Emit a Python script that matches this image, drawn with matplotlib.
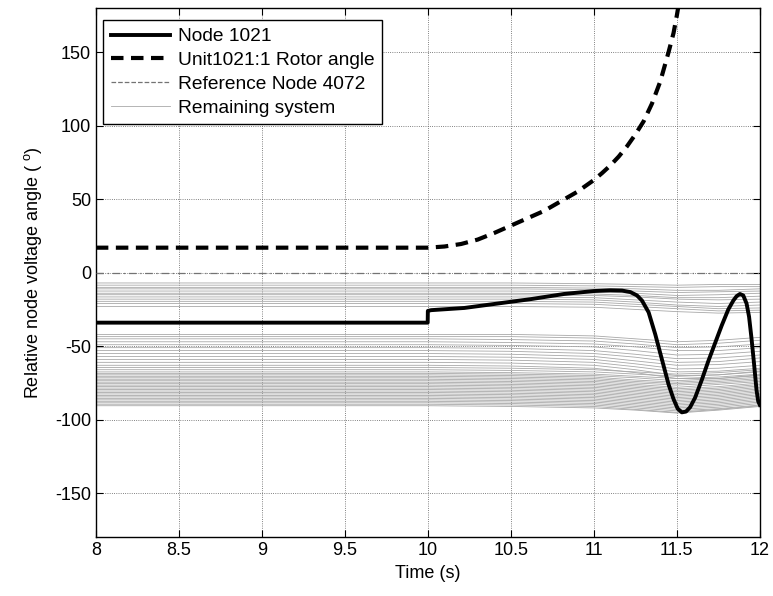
import matplotlib
matplotlib.use("Agg")
import matplotlib.pyplot as plt

plt.rcParams['font.family'] = ['Liberation Sans', 'DejaVu Sans']
plt.rcParams['mathtext.default'] = 'regular'
plt.rcParams['axes.unicode_minus'] = False

# Node 1021 voltage angle
t_node = [8, 9.999, 10.0, 10.02, 10.22, 10.42, 10.62, 10.82, 11.0, 11.1, 11.17, 11.22,
          11.26, 11.29, 11.33, 11.37, 11.41, 11.45, 11.48, 11.505, 11.53, 11.555, 11.58,
          11.61, 11.65, 11.69, 11.73, 11.77, 11.81, 11.84, 11.86, 11.88, 11.9, 11.92,
          11.935, 11.95, 11.965, 11.98, 11.99, 12.0]
node_1021 = [-34, -34, -26, -25.5, -24, -21, -18, -14.5, -12.5, -12, -12.2, -13.2,
             -15.5, -19, -27, -42, -59, -76, -86, -92.5, -95, -94.5, -91.5,
             -85, -73, -60, -48, -36, -25, -19, -16, -14.5, -15.5, -21,
             -30, -45, -62, -80, -87.5, -90]

# Unit1021:1 rotor angle
t_rotor = [8, 10.0, 10.1, 10.2, 10.3, 10.4, 10.5, 10.6, 10.7, 10.8, 10.9, 11.0, 11.05,
           11.1, 11.15, 11.2, 11.25, 11.3, 11.35, 11.4, 11.45, 11.48, 11.5, 11.53]
rotor_angle = [17, 17, 17.8, 19.5, 22.5, 27, 32, 37, 42, 48.5, 55, 63, 67.8,
               73, 79, 86, 94, 103, 115, 130, 150, 163, 175, 195]

# Reference node 4072
t_ref = [8, 12]
ref_4072 = [0, 0]

# Remaining system nodes (values at the time knots)
t_rest = [8, 10, 10.5, 11, 11.25, 11.5, 11.75, 12]
rest_upper = [
    [-7, -7, -7, -7.5, -8, -8.5, -8, -8],
    [-8.5, -8.5, -8.5, -9, -9.5, -10, -9.5, -9.5],
    [-10, -10, -10, -10.5, -11, -12, -12, -11],
    [-11, -11, -11, -11.5, -12.5, -13.5, -13, -12.5],
    [-12.5, -12.5, -12.5, -13, -14, -15.5, -15, -14],
    [-14, -14, -14, -14.5, -15.5, -17, -17, -16],
    [-15, -15, -15, -15.5, -16.5, -18, -18.5, -18],
    [-16.5, -16.5, -16.5, -17, -18.5, -20, -21, -20],
    [-18, -18, -18, -18.5, -20, -22, -23, -22],
    [-19.5, -19.5, -19.5, -20, -21.5, -23, -24.5, -24],
    [-21, -21, -21, -21.5, -23, -24.5, -26, -25.5],
    [-23, -23, -23, -23.5, -25, -26.5, -27.5, -27],
]
rest_middle = [
    [-42, -42, -42, -43, -45, -47, -46, -44],
    [-43.5, -43.5, -43.5, -44.5, -46.5, -49, -48, -46],
    [-45, -45, -45.5, -46.5, -48.5, -51, -50.5, -48.5],
    [-47, -47, -47.5, -48.5, -50.5, -53, -53, -51],
    [-49, -49, -49.5, -50.5, -53, -56, -55.5, -53.5],
    [-51, -51, -51.5, -53, -55.5, -58.5, -58, -56],
    [-53, -53, -53.5, -55, -57.5, -61, -60.5, -58],
    [-55, -55, -55.5, -57, -60, -63, -62.5, -60.5],
    [-57, -57, -57.5, -59, -62, -65.5, -65, -63],
    [-59, -59, -59.5, -61, -64, -67.5, -67, -65],
    [-61, -61, -61.5, -63, -66, -70, -69.5, -67],
    [-63, -63, -63.5, -65, -68, -72, -72, -69.5],
]
rest_lower = [
    [-64.5, -64.5, -65, -66, -67.5, -69, -68, -66],
    [-66, -66, -66.5, -67.5, -69, -70.5, -69.5, -67.5],
    [-67.5, -67.5, -68, -69, -70.5, -72, -71, -69],
    [-68.5, -68.5, -69, -70, -71.5, -73.5, -72, -70],
    [-69.5, -69.5, -70, -71, -73, -74.5, -73, -71],
    [-70.5, -70.5, -71, -72, -74, -75.5, -74, -72],
    [-71.5, -71.5, -72, -73, -75, -76.5, -75, -73],
    [-72.5, -72.5, -73, -74, -76, -78, -76, -74],
    [-73.5, -73.5, -74, -75, -77, -79, -77.5, -75],
    [-74.5, -74.5, -75, -76, -78, -80, -78.5, -76],
    [-75.5, -75.5, -76, -77, -79, -81, -79.5, -77],
    [-76.5, -76.5, -77, -78, -80, -82, -80.5, -78],
    [-77.5, -77.5, -78, -79, -81, -83, -81.5, -79],
    [-78.5, -78.5, -79, -80, -82, -84, -82.5, -80],
    [-79.5, -79.5, -80, -81, -83, -85, -83.5, -81],
    [-80.5, -80.5, -81, -82, -84, -86, -84.5, -82],
    [-81.5, -81.5, -82, -83, -85, -87, -85.5, -83],
    [-82.5, -82.5, -83, -84, -86, -88, -86.5, -84],
    [-83.5, -83.5, -84, -85, -87, -89, -87.5, -85],
    [-84.5, -84.5, -85, -86, -88, -90, -88.5, -86],
    [-85.5, -85.5, -86, -87, -89, -91, -89.5, -87],
    [-86.5, -86.5, -87, -88, -90, -92, -90.5, -88],
    [-87.5, -87.5, -88, -89, -91, -93, -91.5, -89],
    [-88.5, -88.5, -89, -90, -92, -94, -92.5, -90],
    [-89.5, -89.5, -90, -91, -93, -95, -93, -90.5],
    [-90.5, -90.5, -91, -92, -93.5, -95.5, -93.5, -91],
]

x_ticks = [8, 8.5, 9, 9.5, 10, 10.5, 11, 11.5, 12]
x_ticklabels = ['8', '8.5', '9', '9.5', '10', '10.5', '11', '11.5', '12']
y_ticks = [-150, -100, -50, 0, 50, 100, 150]

fig = plt.figure(figsize=(7.73, 5.96), dpi=100)
ax = fig.add_axes([0.124, 0.0985, 0.859, 0.888])

gray_handle = None
for row in rest_upper + rest_middle + rest_lower:
    gray_handle, = ax.plot(t_rest, row, color='0.66', lw=0.6, zorder=2)

ref_handle, = ax.plot(t_ref, ref_4072, color='0.45', lw=0.9, linestyle=(0, (6, 3, 1, 3)), zorder=3)
node_handle, = ax.plot(t_node, node_1021, color='black', lw=2.8, zorder=4)
rotor_handle, = ax.plot(t_rotor, rotor_angle, color='black', lw=3.0, dashes=(3, 1.8), zorder=5)

ax.set_xlim(8, 12)
ax.set_ylim(-180, 180)
ax.set_xticks(x_ticks)
ax.set_xticklabels(x_ticklabels)
ax.set_yticks(y_ticks)
ax.tick_params(direction='in', top=True, right=True, length=5, labelsize=13, width=0.8)
ax.grid(True, linestyle=':', color='0.35', lw=0.6)
for s in ax.spines.values():
    s.set_linewidth(1.0)

ax.set_xlabel('Time (s)', fontsize=13, labelpad=4)
ax.set_ylabel('Relative node voltage angle ( $^o$)', fontsize=13, labelpad=8)

ref_legend, = ax.plot([], [], color='0.45', lw=0.9, linestyle='--')
leg = ax.legend([node_handle, rotor_handle, ref_legend, gray_handle],
                ['Node 1021', 'Unit1021:1 Rotor angle', 'Reference Node 4072', 'Remaining system'],
                loc='upper left', bbox_to_anchor=(0.011, 0.977), borderaxespad=0,
                fontsize=13.8, handlelength=3.1, labelspacing=0.33, handletextpad=0.4,
                borderpad=0.4, fancybox=False, framealpha=1, edgecolor='black')
leg.get_frame().set_linewidth(1.0)

fig.savefig('out.png', dpi=100)
